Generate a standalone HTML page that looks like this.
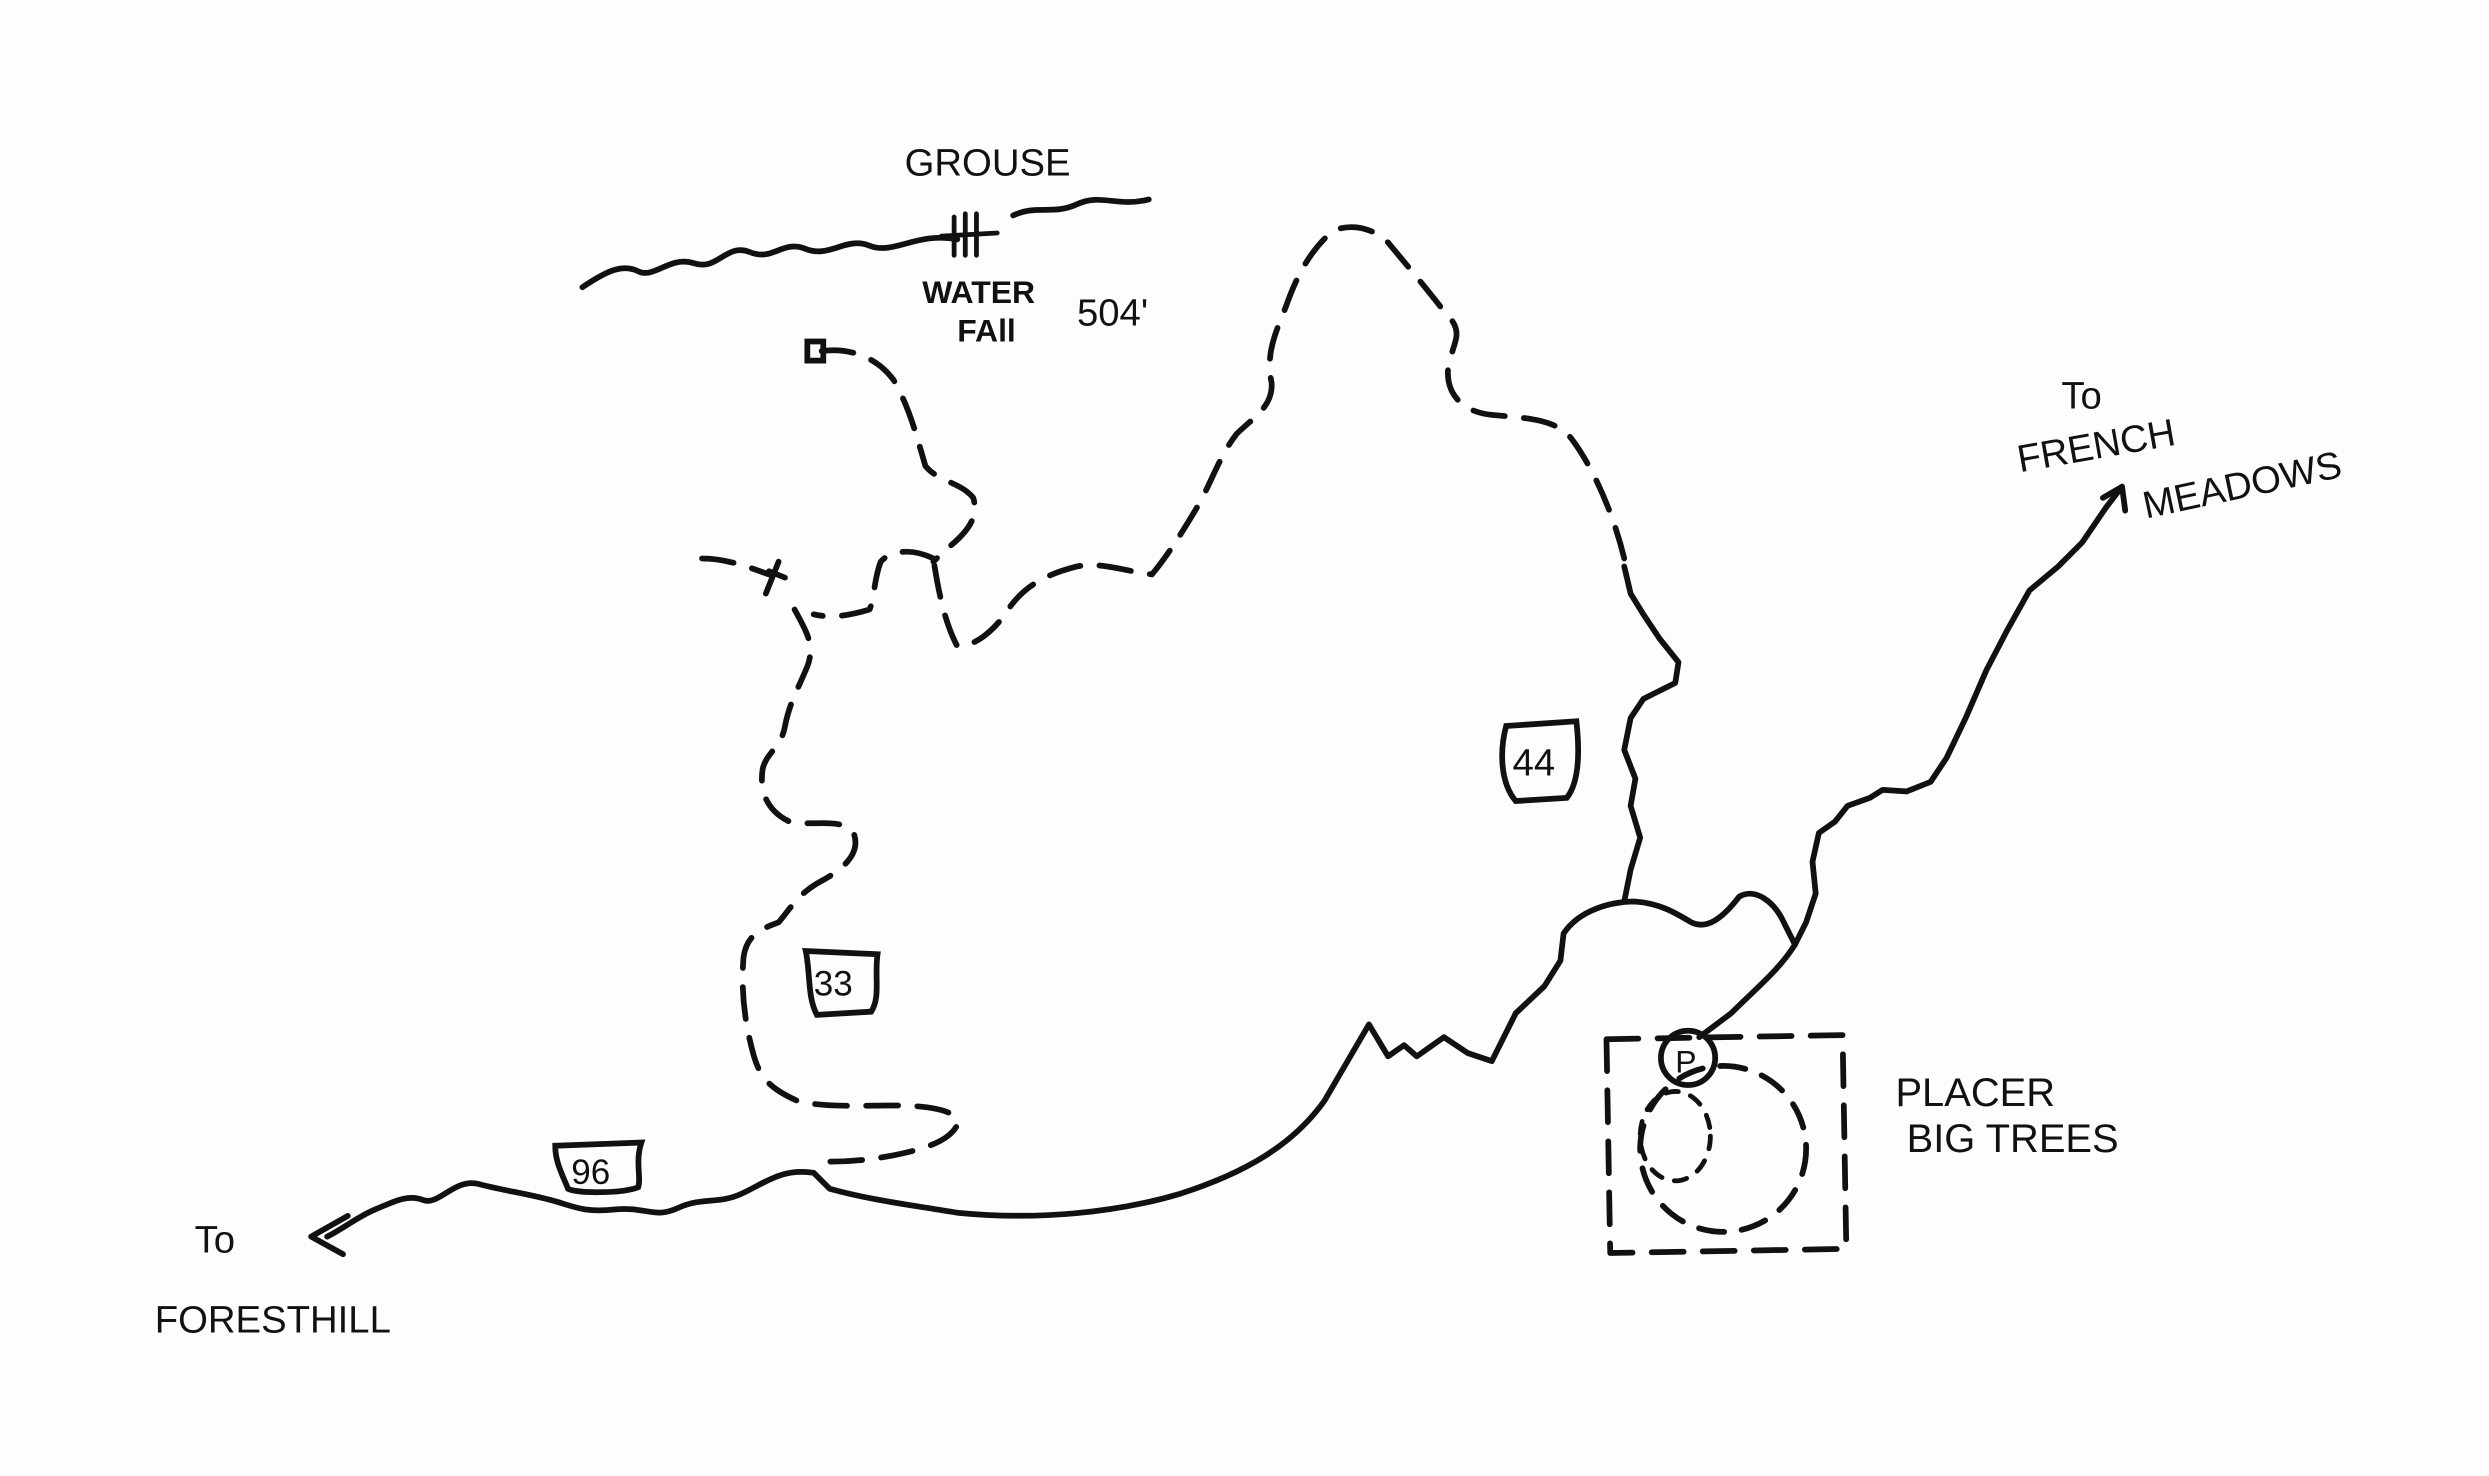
<!DOCTYPE html>
<html><head><meta charset="utf-8"><style>
html,body{margin:0;padding:0;background:#fff;}
svg{display:block;}
text{font-family:"Liberation Sans",sans-serif;fill:#111;}
</style></head><body>
<svg width="2489" height="1476" viewBox="0 0 1560 925" preserveAspectRatio="none" xmlns="http://www.w3.org/2000/svg">
<rect width="1560" height="925" fill="#fdfdfd"/>
<g fill="none" stroke="#111" stroke-width="3.6" stroke-linecap="round" stroke-linejoin="round">
<!-- river -->
<path d="M365,180 C380,170 390,165 400,170 S420,160 435,165 S455,152 470,158 S490,150 505,156 S530,148 545,154 S575,145 600,150"/>
<path d="M635,135 C650,128 660,135 675,128 S700,130 720,125"/>
<path d="M598,136 L598,160 M605,134 L605,160 M612,134 L612,160 M590,148 L625,146" stroke-width="3"/>
<!-- main road -->
<path d="M205,775 C215,770 225,762 235,758 S255,748 265,752 S285,738 300,742 S330,748 345,752 S365,760 385,758 S410,764 425,757 S450,755 465,748 S490,732 510,735 L520,745 C545,752 570,755 600,760 C650,765 700,760 740,748 C780,735 810,718 830,690 L858,642 L870,662 L880,655 L888,662 L905,650 L920,660 L935,665 L950,635 L968,618 L978,602 L980,585 C990,570 1010,565 1025,565 C1040,566 1050,572 1060,578 C1070,583 1080,575 1090,562 C1100,556 1112,565 1118,578 L1125,592 C1115,608 1100,620 1085,635 L1065,650"/>
<path d="M195,775 L218,762 M195,775 L215,786"/>
<!-- 44 solid -->
<path d="M1018,565 L1022,545 L1028,525 L1022,505 L1025,488 L1018,470 L1022,450 L1030,438 L1050,428 L1052,415 L1040,400 L1030,385 L1022,372 L1018,355"/>
<!-- to french meadows -->
<path d="M1125,592 L1132,578 L1138,560 L1136,540 L1140,522 L1150,515 L1158,505 L1172,500 L1180,495 L1195,496 L1210,490 L1220,475 L1232,450 L1245,420 L1258,395 L1272,370 L1290,355 L1305,340 L1320,318 L1330,305"/>
<path d="M1330,305 L1318,312 M1330,305 L1332,320"/>
</g>
<g fill="none" stroke="#111" stroke-width="3.6" stroke-linecap="round" stroke-linejoin="round" stroke-dasharray="20 12">
<!-- 44 dashed -->
<path d="M1018,350 C1012,325 1000,295 985,275 C975,262 955,262 935,260 C915,258 905,245 908,228 C912,212 918,208 905,195 C895,182 885,170 870,152 C860,142 845,140 835,145 C820,158 812,175 806,192 C800,208 793,220 797,240 C798,255 785,262 775,272 C765,285 760,300 752,315 C742,332 732,348 722,360 C705,358 690,352 675,355 C655,360 640,368 630,385 C620,398 610,405 600,405 C592,390 588,370 585,350"/>
<path d="M585,350 C575,345 560,343 552,352 C548,362 548,375 545,382 C535,385 522,388 510,385"/>
<!-- trailhead branch -->
<path d="M515,220 C530,218 548,222 560,238 C570,255 575,275 580,292 C588,302 602,302 610,312 C614,325 605,335 592,345 L585,352"/>
<path d="M440,350 C455,350 468,355 482,360"/>
<!-- 33 -->
<path d="M498,382 C505,395 512,405 505,420 C500,432 495,440 492,455 C490,468 480,472 478,482 C476,495 480,508 495,515 C510,518 528,512 535,522 C540,535 528,545 515,552 C500,560 495,570 488,578 C478,582 468,585 466,600 C464,625 468,645 472,660 C476,675 482,682 500,690 C520,695 550,692 570,693 C590,694 602,698 600,705 C595,715 580,720 560,724 C545,727 532,728 520,728"/>
<!-- placer big trees -->
<rect x="1008" y="650" width="148" height="134" transform="rotate(-1 1080 715)"/>
<ellipse cx="1080" cy="720" rx="52" ry="52" stroke-dasharray="16 11"/>
<ellipse cx="1050" cy="712" rx="22" ry="28" stroke-dasharray="8 8" stroke-width="3"/>
</g>
<g stroke="#111" stroke-width="3.6" fill="none" stroke-linecap="round">
<rect x="506" y="214" width="10" height="12"/>
<path d="M482,358 L492,362 M488,352 L480,372"/>
<circle cx="1058" cy="663" r="17"/>
<!-- shields -->
<path d="M348,718 L402,716 C398,728 402,738 400,744 C390,748 362,748 356,745 C352,735 348,728 348,718 Z"/>
<path d="M505,596 L550,598 C548,612 552,625 546,634 L512,636 C506,625 508,610 505,596 Z"/>
<path d="M944,455 L988,452 C990,470 990,490 982,500 L950,502 C940,490 940,470 944,455 Z"/>
</g>
<g font-size="22">
<text x="567" y="110" font-size="24">GROUSE</text>
<text x="578" y="190" font-size="20" font-weight="bold">WATER</text>
<text x="600" y="214" font-size="20" font-weight="bold">FAll</text>
<text x="675" y="204" font-size="24">504'</text>
<text x="358" y="742" font-size="22">96</text>
<text x="510" y="624" font-size="22">33</text>
<text x="948" y="486" font-size="24">44</text>
<text x="1050" y="672" font-size="20">P</text>
<text x="122" y="785" font-size="24">To</text>
<text x="97" y="835" font-size="24">FORESTHILL</text>
<text x="1292" y="256" font-size="24">To</text>
<text x="1266" y="296" font-size="24" transform="rotate(-10 1266 296)">FRENCH</text>
<text x="1345" y="325" font-size="24" transform="rotate(-12 1345 325)">MEADOWS</text>
<text x="1188" y="693" font-size="25">PLACER</text>
<text x="1195" y="722" font-size="25">BIG TREES</text>
</g>
</svg>
</body></html>
